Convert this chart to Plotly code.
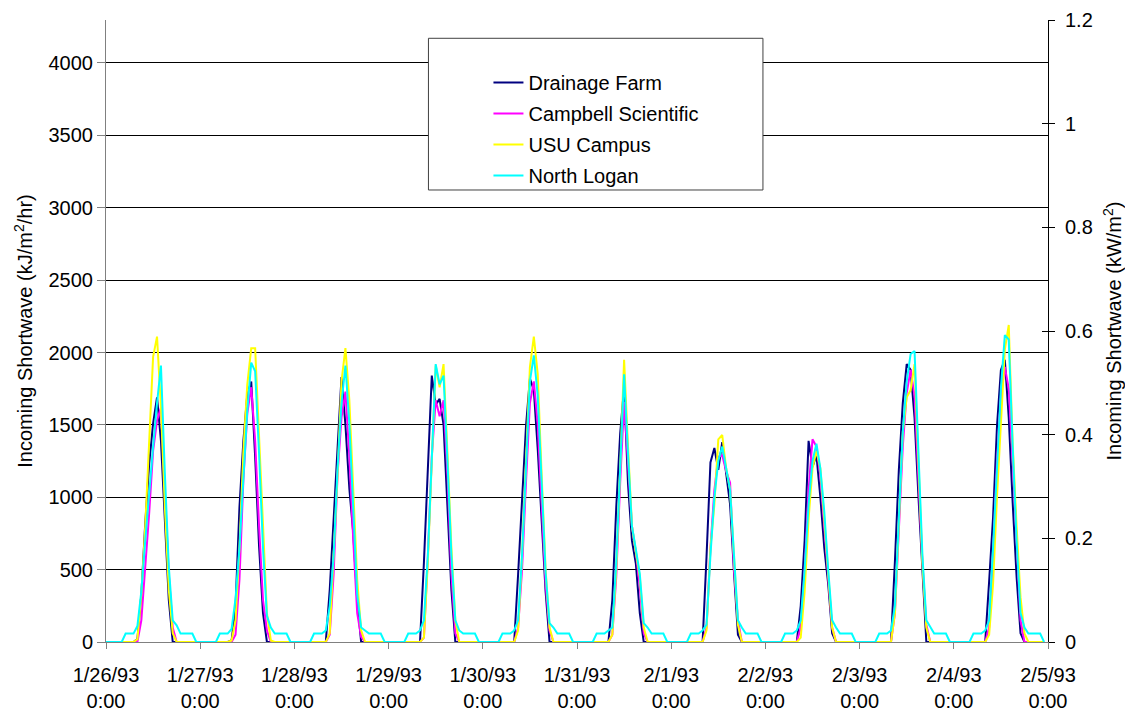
import plotly.graph_objects as go
import pandas as pd

# ---------------- data ----------------
tick_dates = ["1993-01-26", "1993-01-27", "1993-01-28", "1993-01-29", "1993-01-30",
              "1993-01-31", "1993-02-01", "1993-02-02", "1993-02-03", "1993-02-04", "1993-02-05"]
tick_labels = ["1/26/93<br>0:00", "1/27/93<br>0:00", "1/28/93<br>0:00", "1/29/93<br>0:00",
               "1/30/93<br>0:00", "1/31/93<br>0:00", "2/1/93<br>0:00", "2/2/93<br>0:00",
               "2/3/93<br>0:00", "2/4/93<br>0:00", "2/5/93<br>0:00"]

# hourly values (kJ/m2/hr) per day, hours 08:00 .. 18:00 (other hours are 0)
drainage_farm = [
    [20, 330, 820, 1230, 1510, 1690, 1390, 860, 290, 0, 0],
    [10, 240, 930, 1390, 1710, 1800, 1280, 660, 200, 0, 0],
    [0, 360, 860, 1390, 1830, 1500, 1060, 750, 290, 0, 0],
    [0, 550, 1200, 1840, 1640, 1680, 1500, 960, 360, 0, 0],
    [0, 470, 1000, 1490, 1820, 1740, 1330, 800, 350, 0, 0],
    [0, 290, 930, 1440, 1760, 1090, 700, 540, 200, 0, 0],
    [0, 590, 1240, 1340, 1190, 1380, 1180, 950, 480, 50, 0],
    [0, 250, 700, 1390, 1210, 1290, 1000, 650, 400, 60, 0],
    [0, 560, 1190, 1650, 1920, 1880, 1550, 1000, 450, 0, 0],
    [0, 420, 860, 1490, 1880, 1950, 1550, 960, 450, 60, 0],
]
campbell_scientific = [
    [0, 150, 500, 890, 1320, 1530, 1620, 1050, 470, 100, 0],
    [0, 50, 430, 1120, 1580, 1760, 1390, 800, 290, 80, 0],
    [0, 50, 470, 1160, 1550, 1730, 1280, 700, 200, 35, 0],
    [0, 30, 590, 1280, 1670, 1560, 1670, 1160, 470, 60, 0],
    [0, 100, 500, 1100, 1650, 1800, 1500, 950, 400, 80, 0],
    [0, 50, 450, 1100, 1660, 1230, 800, 620, 380, 60, 0],
    [0, 100, 650, 1050, 1280, 1290, 1180, 1100, 500, 150, 0],
    [0, 100, 500, 1050, 1400, 1350, 1150, 800, 450, 100, 0],
    [0, 200, 800, 1350, 1720, 1880, 1700, 1150, 550, 120, 0],
    [0, 100, 600, 1250, 1700, 1900, 1750, 1250, 650, 150, 0],
]
usu_campus = [
    [20, 330, 800, 1390, 1970, 2110, 1620, 930, 360, 60, 0],
    [10, 150, 650, 1320, 1780, 2030, 2030, 1390, 750, 200, 10],
    [0, 60, 600, 1160, 1800, 2030, 1670, 1050, 430, 80, 0],
    [0, 30, 550, 1250, 1910, 1760, 1920, 1300, 650, 150, 0],
    [0, 80, 600, 1250, 1900, 2110, 1850, 1150, 500, 100, 0],
    [0, 50, 500, 1200, 1950, 1350, 800, 620, 450, 100, 0],
    [0, 80, 650, 950, 1400, 1430, 1200, 1050, 550, 120, 0],
    [0, 30, 350, 850, 1200, 1320, 1200, 850, 450, 100, 0],
    [0, 200, 850, 1450, 1690, 1740, 1920, 1250, 550, 100, 0],
    [0, 50, 400, 1000, 1530, 2020, 2190, 1370, 800, 310, 60],
]
# North Logan: hours 05:00 .. 22:00
north_logan = [
    [58, 58, 58, 110, 350, 700, 1050, 1350, 1650, 1910, 1160, 520, 150, 115, 58, 58, 58, 58],
    [58, 58, 58, 90, 300, 650, 1150, 1600, 1930, 1870, 1300, 650, 180, 100, 58, 58, 58, 58],
    [58, 58, 58, 80, 250, 600, 1200, 1650, 1910, 1510, 890, 330, 100, 80, 58, 58, 58, 58],
    [58, 58, 58, 80, 150, 600, 1250, 1920, 1780, 1840, 1250, 600, 150, 80, 58, 58, 58, 58],
    [58, 58, 58, 80, 150, 600, 1200, 1800, 1980, 1700, 1100, 480, 130, 100, 58, 58, 58, 58],
    [58, 58, 58, 80, 100, 550, 1200, 1850, 1300, 800, 640, 470, 130, 100, 58, 58, 58, 58],
    [58, 58, 58, 80, 120, 600, 1000, 1250, 1350, 1200, 1050, 600, 150, 100, 58, 58, 58, 58],
    [58, 58, 58, 80, 150, 500, 950, 1250, 1370, 1200, 900, 500, 150, 100, 58, 58, 58, 58],
    [58, 58, 58, 80, 250, 850, 1450, 1800, 1990, 2010, 1300, 600, 150, 100, 58, 58, 58, 58],
    [58, 58, 58, 80, 150, 650, 1250, 1750, 2120, 2090, 1350, 700, 200, 100, 58, 58, 58, 58],
]

series_names = ["Drainage Farm", "Campbell Scientific", "USU Campus", "North Logan"]
series_colors = ["#000080", "#FF00FF", "#FFFF00", "#00FFFF"]
left_ticks = [0, 500, 1000, 1500, 2000, 2500, 3000, 3500, 4000]
right_ticks = [0, 0.2, 0.4, 0.6, 0.8, 1.0, 1.2]
right_tick_text = ["0", "0.2", "0.4", "0.6", "0.8", "1", "1.2"]


def build(day_lists, first_hour):
    vals = []
    for d in day_lists:
        day = [0] * 24
        for i, v in enumerate(d):
            day[first_hour + i] = v
        vals.extend(day)
    return vals


times = pd.date_range("1993-01-26 00:00", periods=240, freq="h")
series_values = [build(drainage_farm, 8), build(campbell_scientific, 8),
                 build(usu_campus, 8), build(north_logan, 5)]

FONT = "Arial, Liberation Sans, sans-serif"

fig = go.Figure()
for name, color, vals in zip(series_names, series_colors, series_values):
    fig.add_trace(go.Scatter(x=times, y=vals, mode="lines", name=name, legendgroup=name,
                             line=dict(color=color, width=2)))

# dummy traces so the secondary axes exist
fig.add_trace(go.Scatter(x=[times[0]], y=[None], yaxis="y2", showlegend=False, hoverinfo="skip"))
fig.add_trace(go.Scatter(x=[times[0]], y=[None], yaxis="y3", showlegend=False, hoverinfo="skip"))

fig.update_layout(
    width=1125, height=713,
    margin=dict(l=106, r=77, t=20, b=71),
    paper_bgcolor="white", plot_bgcolor="white",
    font=dict(family=FONT, size=20, color="black"),
    showlegend=True,
    legend=dict(x=0.406, y=0.931, xanchor="left", yanchor="top",
                bgcolor="rgba(0,0,0,0)", borderwidth=0, tracegroupgap=2,
                font=dict(family=FONT, size=20, color="black")),
    xaxis=dict(type="date", range=["1993-01-26", "1993-02-05"], automargin=False,
               tickvals=tick_dates, ticktext=tick_labels,
               showgrid=False, zeroline=False,
               showline=True, linecolor="#808080", linewidth=1,
               ticks="outside", ticklen=6, tickcolor="#808080",
               ticklabelstandoff=9,
               tickfont=dict(size=20, color="black")),
    yaxis=dict(range=[0, 4297], tickvals=left_ticks, automargin=False,
               showgrid=True, gridcolor="black", gridwidth=1,
               zeroline=False, showline=True, linecolor="#808080", linewidth=1,
               ticks="outside", ticklen=8, tickcolor="#808080",
               tickfont=dict(size=20, color="black"),
               title=dict(text="Incoming Shortwave (kJ/m<sup>2</sup>/hr)",
                          font=dict(size=20), standoff=10)),
    yaxis2=dict(range=[0, 1.2], tickvals=right_ticks, ticktext=right_tick_text,
                overlaying="y", side="right", anchor="x", automargin=False,
                showgrid=False, zeroline=False,
                showline=True, linecolor="black", linewidth=1,
                ticks="outside", ticklen=6, tickcolor="black",
                ticklabelstandoff=6,
                tickfont=dict(size=20, color="black"),
                title=dict(text="Incoming Shortwave (kW/m<sup>2</sup>)",
                           font=dict(size=20), standoff=20)),
    yaxis3=dict(range=[0, 1.2], tickvals=right_ticks, automargin=False,
                overlaying="y", side="right", anchor="x",
                showgrid=False, zeroline=False, showline=False,
                ticks="inside", ticklen=6, tickcolor="black",
                showticklabels=False),
    shapes=[dict(type="rect", xref="paper", yref="paper",
                 x0=0.3423, x1=0.6974, y0=0.7267, y1=0.9706,
                 line=dict(color="#404040", width=1), fillcolor="white", layer="above")],
)

fig.write_html("out.html")
